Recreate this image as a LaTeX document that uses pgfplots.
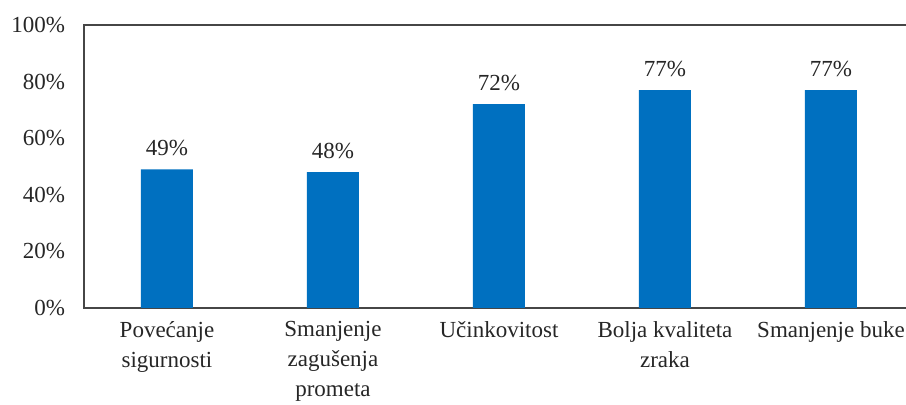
\documentclass[border=0pt]{standalone}
\usepackage{fontspec}
\setmainfont{Liberation Serif}
\usepackage{pgfplots}
\pgfplotsset{compat=1.18}
\usetikzlibrary{calc}
\definecolor{barblue}{RGB}{0,112,192}
\definecolor{spine}{RGB}{70,70,70}
\begin{document}
\begin{tikzpicture}
\begin{axis}[
  name=ax,
  scale only axis,
  width=415pt, height=141.5pt,
  xmin=-0.5, xmax=4.5,
  ymin=0, ymax=100,
  ytick={0,20,40,60,80,100},
  yticklabel={\pgfmathprintnumber{\tick}\%},
  /pgf/number format/assume math mode=true,
  xtick={0,1,2,3,4},
  xticklabels={Povećanje\\sigurnosti, Smanjenje\\zagušenja\\prometa, Učinkovitost, Bolja kvaliteta\\zraka, Smanjenje buke},
  xticklabel style={align=center, font=\fontsize{11.5}{15}\selectfont, yshift=-3pt, text=black!85},
  yticklabel style={font=\fontsize{11.5}{14}\selectfont, xshift=-6pt, text=black!85},
  major tick length=0pt,
  axis line style={spine, line width=0.9pt},
  ybar, bar width=26pt,
  nodes near coords={\pgfmathprintnumber{\pgfplotspointmeta}\%},
  nodes near coords style={font=\fontsize{11.5}{14}\selectfont, text=black!85, yshift=3pt},
  point meta=explicit symbolic,
]
\addplot[fill=barblue, draw=none] coordinates {(0,49) [49] (1,48) [48] (2,72) [72] (3,77) [77] (4,77) [77]};
\end{axis}
\pgfresetboundingbox
\path[use as bounding box] ($(ax.south west)+(-42pt,-48.5pt)$) rectangle ($(ax.south west)+(411pt,154pt)$);
\end{tikzpicture}
\end{document}
